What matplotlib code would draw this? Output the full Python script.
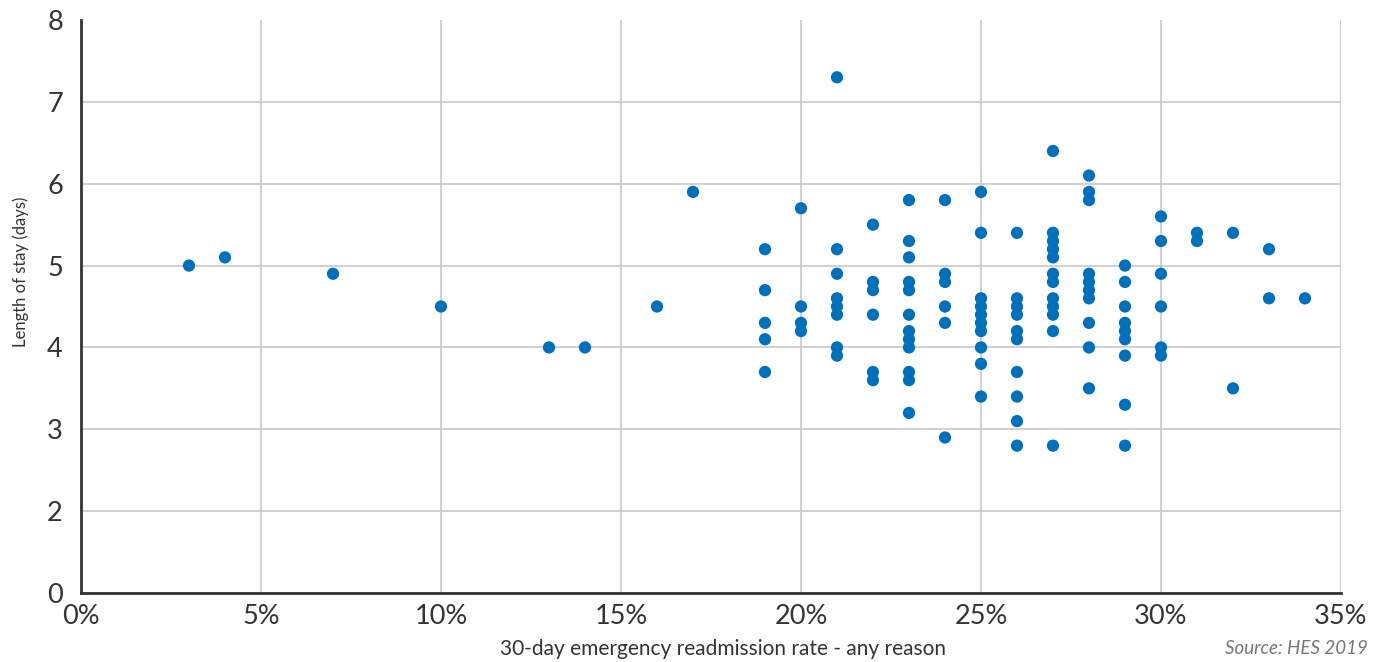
import matplotlib
matplotlib.use("Agg")
import matplotlib.pyplot as plt
from matplotlib.ticker import FixedLocator

# Readmission rate (%) and length of stay (days) per provider
readmission_pct = (
    [3, 4, 7, 10, 13, 14, 16, 17]
    + [19] * 5
    + [20] * 4
    + [21] * 8
    + [22] * 6
    + [23] * 12
    + [24] * 6
    + [25] * 10
    + [26] * 10
    + [27] * 12
    + [28] * 10
    + [29] * 9
    + [30] * 6
    + [31] * 2
    + [32] * 2
    + [33] * 2
    + [34]
)
length_of_stay = (
    [5.0, 5.1, 4.9, 4.5, 4.0, 4.0, 4.5, 5.9]
    + [5.2, 4.7, 4.3, 4.1, 3.7]
    + [5.7, 4.5, 4.3, 4.2]
    + [7.3, 5.2, 4.9, 4.6, 4.5, 4.4, 4.0, 3.9]
    + [5.5, 4.8, 4.7, 4.4, 3.7, 3.6]
    + [5.8, 5.3, 5.1, 4.8, 4.7, 4.4, 4.2, 4.1, 4.0, 3.7, 3.6, 3.2]
    + [5.8, 4.9, 4.8, 4.5, 4.3, 2.9]
    + [5.9, 5.4, 4.6, 4.5, 4.4, 4.3, 4.2, 4.0, 3.8, 3.4]
    + [5.4, 4.6, 4.5, 4.4, 4.2, 4.1, 3.7, 3.4, 3.1, 2.8]
    + [6.4, 5.4, 5.3, 5.2, 5.1, 4.9, 4.8, 4.6, 4.5, 4.4, 4.2, 2.8]
    + [6.1, 5.9, 5.8, 4.9, 4.8, 4.7, 4.6, 4.3, 4.0, 3.5]
    + [5.0, 4.8, 4.5, 4.3, 4.2, 4.1, 3.9, 3.3, 2.8]
    + [5.6, 5.3, 4.9, 4.5, 4.0, 3.9]
    + [5.4, 5.3]
    + [5.4, 3.5]
    + [5.2, 4.6]
    + [4.6]
)

x_ticks = [0, 5, 10, 15, 20, 25, 30, 35]
x_tick_labels = ["0%", "5%", "10%", "15%", "20%", "25%", "30%", "35%"]
y_ticks = [1, 2, 3, 4, 5, 6, 7, 8]
y_tick_labels = ["0", "2", "3", "4", "5", "6", "7", "8"]

plt.rcParams["font.family"] = ["Lato", "DejaVu Sans"]

fig = plt.figure(figsize=(13.89, 6.62), dpi=100)
ax = fig.add_axes([81 / 1389, 69 / 662, 1260 / 1389, 573 / 662])

ax.scatter(readmission_pct, length_of_stay, s=78, color="#0070BA",
           edgecolors="none", zorder=3, clip_on=False)

ax.set_xlim(0, 35)
ax.set_ylim(1, 8)
ax.xaxis.set_major_locator(FixedLocator(x_ticks))
ax.set_xticklabels(x_tick_labels)
ax.yaxis.set_major_locator(FixedLocator(y_ticks))
ax.set_yticklabels(y_tick_labels)

ax.tick_params(axis="both", length=0, labelsize=19.5, colors="#333333")
ax.tick_params(axis="x", pad=8)
ax.tick_params(axis="y", pad=13)

ax.grid(True, color="#c4c4c4", linewidth=1.1, zorder=0)
ax.set_axisbelow(True)
# hide the gridline that would sit on the top edge
ax.get_ygridlines()[-1].set_visible(False)

for side in ("top", "right"):
    ax.spines[side].set_visible(False)
for side in ("left", "bottom"):
    ax.spines[side].set_color("#333333")
    ax.spines[side].set_linewidth(2)
    ax.spines[side].set_zorder(4)

ax.set_xlabel("30-day emergency readmission rate - any reason",
              fontsize=15, color="#333333", labelpad=7)
ax.xaxis.label.set_x(0.5095)
ax.set_ylabel("Length of stay (days)", fontsize=12, color="#333333",
              labelpad=13)
ax.yaxis.label.set_y(0.56)

fig.text(1368 / 1389, 1 - 648 / 662, "Source: HES 2019", ha="right",
         va="center", fontsize=13.5, style="italic", color="#777777")

fig.savefig("out.png", dpi=100)
